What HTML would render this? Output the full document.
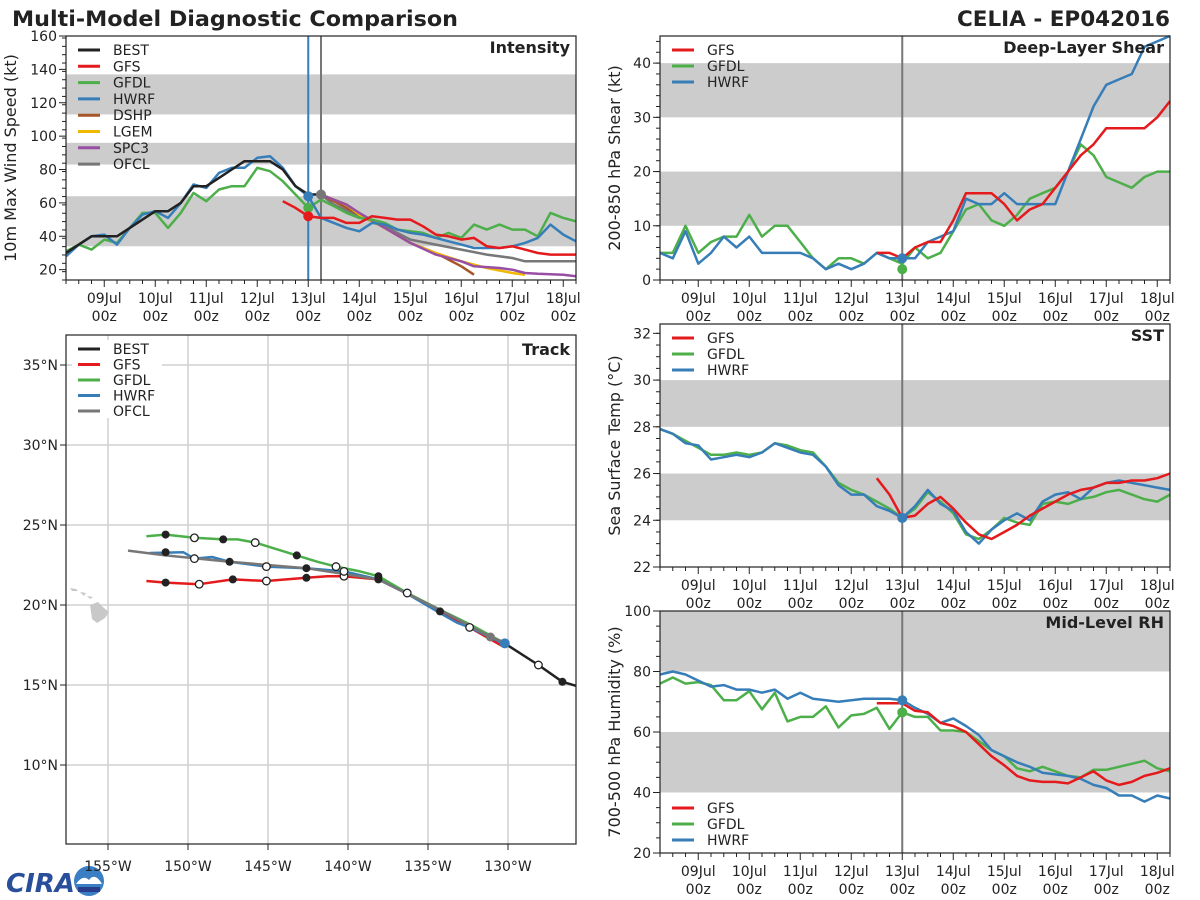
<!DOCTYPE html>
<html><head><meta charset="utf-8"><style>
body{margin:0;background:#fff;}
svg{display:block;font-family:"DejaVu Sans","Liberation Sans",sans-serif;}
</style></head><body>
<svg id="chart" width="1200" height="900" viewBox="0 0 1200 900">
<text x="12" y="26" font-size="21" font-weight="bold" fill="#222" textLength="446" lengthAdjust="spacingAndGlyphs">Multi-Model Diagnostic Comparison</text>
<text x="957" y="26" font-size="21" font-weight="bold" fill="#222" textLength="213" lengthAdjust="spacingAndGlyphs">CELIA - EP042016</text>
<g>
<text x="6" y="892" font-size="26" font-weight="bold" fill="#2a4f9a" font-style="italic">CIRA</text>
<circle cx="89" cy="881" r="15" fill="#3a7ec4"/>
<path d="M76 884 Q83 874 89 880 Q95 872 102 884 Z" fill="#fff"/>
<rect x="78" y="887" width="22" height="5" fill="#2a3d8a"/>
</g>
</svg>
<script>
const NS='http://www.w3.org/2000/svg';
const svg=document.getElementById('chart');
function el(tag,attrs,parent){const e=document.createElementNS(NS,tag);for(const k in attrs)e.setAttribute(k,attrs[k]);(parent||svg).appendChild(e);return e;}
const C={BEST:'#222222',GFS:'#e41a1c',GFDL:'#4daf4a',HWRF:'#377eb8',DSHP:'#a65628',LGEM:'#f0b800',SPC3:'#984ea3',OFCL:'#777777'};

const intBestDays=[8.25,8.5,8.75,9,9.25,9.5,9.75,10,10.25,10.5,10.75,11,11.25,11.5,11.75,12,12.25,12.5,12.75,13,13.25];
const intBest=[30,35,40,40,40,45,50,55,55,60,70,70,75,80,85,85,85,80,70,65,65];
const intFullDays=[8.25,8.5,8.75,9,9.25,9.5,9.75,10,10.25,10.5,10.75,11,11.25,11.5,11.75,12,12.25,12.5,12.75,13,13.25,13.5,13.75,14,14.25,14.5,14.75,15,15.25,15.5,15.75,16,16.25,16.5,16.75,17,17.25,17.5,17.75,18,18.25];
const intHwrf=[28,35,40,41,35,45,53,55,51,60,71,69,78,81,81,87,88,81,70,64,51,48,45,43,48,47,44,42,41,39,37,35,33,33,33,34,36,39,47,41,37];
const intGfdl=[31,35,32,38,36,45,54,54,45,54,66,61,68,70,70,81,79,73,65,57,62,58,54,51,50,48,44,43,42,39,42,39,47,44,47,44,44,40,54,51,49];
const intGfsDays=[12.5,12.75,13,13.25,13.5,13.75,14,14.25,14.5,14.75,15,15.25,15.5,15.75,16,16.25,16.5,16.75,17,17.25,17.5,17.75,18,18.25];
const intGfs=[61,57,52,51,51,48,48,52,51,50,50,46,41,40,38,39,34,33,34,32,30,29,29,29];
const intOfclDays=[13.25,13.5,14,14.5,15,15.5,16,16.5,17,17.25,17.5,18.25];
const intOfcl=[65,59,52,46,38,35,32,29,27,25,25,25];
const intDshpDays=[13.25,13.5,14,14.5,15,15.5,16,16.25];
const intDshp=[65,61,53,45,36,30,22,17];
const intLgemDays=[13.25,13.5,13.75,14,14.5,15,15.5,16,16.5,17,17.25];
const intLgem=[65,62,59,53,45,36,30,25,21,18,17];
const intSpcDays=[13.25,13.5,13.75,14,14.5,15,15.5,16,16.25,16.75,17,17.25,17.5,18,18.25];
const intSpc=[65,62,59,54,45,36,29,25,22,21,20,18,17.5,17,16];

const shFullDays=intFullDays;
const shHwrf=[5,4,9,3,5,8,6,8,5,5,5,5,4,2,3,2,3,5,4,4,4,7,8,9,15,14,14,16,14,14,14,14,20,26,32,36,37,38,43,44,45];
const shGfdl=[5,5,10,5,7,8,8,12,8,10,10,7,4,2,4,4,3,5,4,3,6,4,5,9,13,14,11,10,12,15,16,17,20,25,23,19,18,17,19,20,20];
const shGfsDays=intGfsDays;
const shGfs=[5,5,4,6,7,7,11,16,16,16,14,11,13,14,17,20,23,25,28,28,28,28,30,33];

const sstHwrf=[27.9,27.7,27.3,27.2,26.6,26.7,26.8,26.7,26.9,27.3,27.1,26.9,26.8,26.3,25.5,25.1,25.1,24.6,24.4,24.1,24.6,25.3,24.7,24.4,23.5,23.0,23.6,24.0,24.3,24.0,24.8,25.1,25.2,24.9,25.4,25.6,25.7,25.6,25.5,25.4,25.3];
const sstGfdl=[27.9,27.7,27.4,27.1,26.8,26.8,26.9,26.8,26.9,27.3,27.2,27.0,26.9,26.3,25.6,25.3,25.1,24.8,24.5,24.1,24.5,25.2,24.8,24.3,23.4,23.2,23.6,24.1,23.9,23.8,24.7,24.8,24.7,24.9,25.0,25.2,25.3,25.1,24.9,24.8,25.1];
const sstGfs=[25.8,25.1,24.1,24.2,24.7,25.0,24.5,23.9,23.4,23.2,23.5,23.8,24.2,24.5,24.8,25.1,25.3,25.4,25.6,25.6,25.7,25.7,25.8,26.0];

const rhHwrf=[79,80,79,77,75,75.5,74,74,73,74,71,73,71,70.5,70,70.5,71,71,71,70.5,68,66,63,64.5,62,59,54,52,50,48.5,46.5,46,45.5,44.5,42.5,41.5,39,39,37,39,38];
const rhGfdl=[76,78,76,76.5,75.5,70.5,70.5,73.5,67.5,73,63.5,65,65,68.5,61.5,65.5,66,68,61,66.5,65,65,60.5,60.5,60,57,54,52,48,47,48.5,47,45.5,45,47.5,47.5,48.5,49.5,50.5,48,47];
const rhGfs=[69.5,69.5,69.5,67,66.5,63,62,60,56,52,49,45.5,44,43.5,43.5,43,45,47,44,42.5,43.5,45.5,46.5,48];

const trGfsLon=[152.6,151.4,149.3,147.2,145.1,142.6,141.3,140.25,138.1,136.3,134.25,132.4,130.3];
const trGfsLat=[21.5,21.4,21.3,21.6,21.5,21.7,21.8,21.8,21.6,20.75,19.6,18.6,17.4];
const trGfdlLon=[152.6,151.4,149.6,147.8,146.9,145.8,143.2,141.9,140.75,139.25,138.1,136.3,134.25,132.2,130.2];
const trGfdlLat=[24.3,24.4,24.2,24.1,24.1,23.9,23.1,22.7,22.4,22.1,21.8,20.75,19.7,18.7,17.6];
const trHwrfLon=[152.4,150.3,149.6,148.5,147.4,145.1,142.6,140.25,138.1,136.3,134.25,133.2,132.4,130.3];
const trHwrfLat=[23.25,23.3,22.9,23.0,22.7,22.4,22.3,22.1,21.6,20.7,19.5,18.9,18.6,17.6];
const trOfclLon=[153.75,151.4,147.4,142.6,138.1,136.3,134.25,131.1,130.0];
const trOfclLat=[23.4,23.1,22.7,22.3,21.6,20.7,19.7,18.0,17.6];
const trBestLon=[130.2,128.1,126.6,125.75];
const trBestLat=[17.6,16.25,15.2,14.95];
const trFilledLon=[151.4,147.2,142.6,138.1,134.25,151.4,147.8,143.2,138.1,151.4,147.4,142.6,126.6];
const trFilledLat=[21.4,21.6,21.7,21.6,19.6,24.4,24.1,23.1,21.8,23.3,22.7,22.3,15.2];
const trOpenLon=[149.3,145.1,140.25,136.3,132.4,149.6,145.8,140.75,149.6,145.1,140.25,128.1];
const trOpenLat=[21.3,21.5,21.8,20.75,18.6,24.2,23.9,22.4,22.9,22.4,22.1,16.25];

const dayTicks=[9,10,11,12,13,14,15,16,17,18];
const dayLabels=['09Jul','10Jul','11Jul','12Jul','13Jul','14Jul','15Jul','16Jul','17Jul','18Jul'];

function timePanel(o){
  const g=el('g',{});
  const X=d=>o.x0+(d-8.25)/10*(o.x1-o.x0);
  const Y=v=>o.y1-(v-o.vmin)/(o.vmax-o.vmin)*(o.y1-o.y0);
  o.bands.forEach(b=>{const r=el('rect',{x:o.x0,y:Y(b[1]),width:o.x1-o.x0,height:Y(b[0])-Y(b[1]),fill:'#cccccc'},g);
    });
  for(let d=8.25;d<=18.26;d+=0.25){const major=Math.abs(d-Math.round(d))<0.01;
    el('line',{x1:X(d),x2:X(d),y1:o.y1,y2:o.y1+(major?7:4),stroke:'#222','stroke-width':1},g);}
  dayTicks.forEach((d,i)=>{
    const t=el('text',{x:X(d),y:o.y1+23,'font-size':14,'text-anchor':'middle',fill:'#222'},g);t.textContent=dayLabels[i];
    
    const t2=el('text',{x:X(d),y:o.y1+41,'font-size':14,'text-anchor':'middle',fill:'#222'},g);t2.textContent='00z';
    });
  for(let v=o.vmin;v<=o.vmax+1e-6;v+=o.minor){const y=Y(v);if(y<o.y0-0.5)continue;
    el('line',{x1:o.x0,x2:o.x0-4,y1:y,y2:y,stroke:'#222'},g);}
  o.yTicks.forEach(v=>{const y=Y(v);el('line',{x1:o.x0,x2:o.x0-7,y1:y,y2:y,stroke:'#222'},g);
    const t=el('text',{x:o.x0-9,y:y+5,'font-size':14,'text-anchor':'end',fill:'#222'},g);t.textContent=v;
    });
  const cy=(o.y0+o.y1)/2;
  const yt=el('text',{x:0,y:0,'font-size':16,'text-anchor':'middle',fill:'#222',transform:`translate(${o.x0-o.titleOff},${cy}) rotate(-90)`},g);
  yt.textContent=o.ytitle;
  o.vlines.forEach(v=>el('line',{x1:X(v[0]),x2:X(v[0]),y1:o.y0,y2:o.y1,stroke:v[1],'stroke-width':2},g));
  o.series.forEach(s=>{const p=s.d.map((d,i)=>X(d).toFixed(1)+','+Y(s.v[i]).toFixed(1)).join(' ');
    const l=el('polyline',{points:p,fill:'none',stroke:C[s.n],'stroke-width':2.5,'stroke-linejoin':'round'},g);
    });
  o.dots.forEach(s=>el('circle',{cx:X(s[0]),cy:Y(s[1]),r:5,fill:C[s[2]]},g));
  el('rect',{x:o.x0,y:o.y0,width:o.x1-o.x0,height:o.y1-o.y0,fill:'none',stroke:'#222','stroke-width':1.2},g);
  const pl=el('text',{x:o.x1-6,y:o.y0+17,'font-size':16,'font-weight':'bold','text-anchor':'end',fill:'#222'},g);
  pl.textContent=o.label;
  legend(g,o.x0+12,o.legY,o.legend,o.legSp);
}
function legend(g,x,y,names,sp){
  const lg=el('g',{},g);
  names.forEach((n,i)=>{const yy=y+i*sp;
    el('line',{x1:x,x2:x+22,y1:yy,y2:yy,stroke:C[n],'stroke-width':3},lg);
    const t=el('text',{x:x+35,y:yy+5,'font-size':14,fill:'#222'},lg);t.textContent=n;
    });
}

timePanel({name:'intensity-panel',x0:66,x1:576,y0:36,y1:280,vmin:13.8,vmax:160,minor:5,yTicks:[20,40,60,80,100,120,140,160],
  ytitle:'10m Max Wind Speed (kt)',titleOff:50,label:'Intensity',bands:[[34,64],[83,96],[113,137]],
  vlines:[[13,'#377eb8'],[13.25,'#777']],legY:50,legSp:16.3,legend:['BEST','GFS','GFDL','HWRF','DSHP','LGEM','SPC3','OFCL'],
  series:[{n:'OFCL',d:intOfclDays,v:intOfcl},{n:'DSHP',d:intDshpDays,v:intDshp},{n:'LGEM',d:intLgemDays,v:intLgem},{n:'SPC3',d:intSpcDays,v:intSpc},
    {n:'GFDL',d:intFullDays,v:intGfdl},{n:'HWRF',d:intFullDays,v:intHwrf},{n:'GFS',d:intGfsDays,v:intGfs},{n:'BEST',d:intBestDays,v:intBest}],
  dots:[[13,64,'HWRF'],[13,57,'GFDL'],[13,52,'GFS'],[13.25,65,'OFCL']]});
timePanel({name:'shear-panel',x0:660,x1:1170,y0:36,y1:280,vmin:0,vmax:45,minor:2,yTicks:[0,10,20,30,40],
  ytitle:'200-850 hPa Shear (kt)',titleOff:40,label:'Deep-Layer Shear',bands:[[10,20],[30,40]],
  vlines:[[13,'#777']],legY:50,legSp:16,legend:['GFS','GFDL','HWRF'],
  series:[{n:'GFDL',d:shFullDays,v:shGfdl},{n:'HWRF',d:shFullDays,v:shHwrf},{n:'GFS',d:shGfsDays,v:shGfs}],
  dots:[[13,2,'GFDL'],[13,4,'HWRF']]});
timePanel({name:'sst-panel',x0:660,x1:1170,y0:324,y1:567,vmin:22,vmax:32.4,minor:0.5,yTicks:[22,24,26,28,30,32],
  ytitle:'Sea Surface Temp (°C)',titleOff:40,label:'SST',bands:[[24,26],[28,30]],
  vlines:[[13,'#777']],legY:338,legSp:16,legend:['GFS','GFDL','HWRF'],
  series:[{n:'GFDL',d:intFullDays,v:sstGfdl},{n:'HWRF',d:intFullDays,v:sstHwrf},{n:'GFS',d:intGfsDays,v:sstGfs}],
  dots:[[13,24.1,'HWRF']]});
timePanel({name:'rh-panel',x0:660,x1:1170,y0:611,y1:853,vmin:20,vmax:100,minor:5,yTicks:[20,40,60,80,100],
  ytitle:'700-500 hPa Humidity (%)',titleOff:40,label:'Mid-Level RH',bands:[[40,60],[80,100]],
  vlines:[[13,'#777']],legY:808,legSp:16,legend:['GFS','GFDL','HWRF'],
  series:[{n:'GFDL',d:intFullDays,v:rhGfdl},{n:'HWRF',d:intFullDays,v:rhHwrf},{n:'GFS',d:intGfsDays,v:rhGfs}],
  dots:[[13,70.5,'HWRF'],[13,66.5,'GFDL']]});

(function(){
  const g=el('g',{});
  const x0=66,x1=576,y0=335,y1=844;
  const LX=w=>108+(155-w)*16, LY=l=>365+(35-l)*16;
  const lonT=[155,150,145,140,135,130], latT=[35,30,25,20,15,10];
  lonT.forEach(w=>{el('line',{x1:LX(w),x2:LX(w),y1:y0,y2:y1,stroke:'#d0d0d0','stroke-width':1.5},g);
    el('line',{x1:LX(w),x2:LX(w),y1:y1,y2:y1+6,stroke:'#222'},g);
    const t=el('text',{x:LX(w),y:y1+27,'font-size':14,'text-anchor':'middle',fill:'#222'},g);t.textContent=w+'°W';
    });
  latT.forEach(l=>{el('line',{x1:x0,x2:x1,y1:LY(l),y2:LY(l),stroke:'#d0d0d0','stroke-width':1.5},g);
    el('line',{x1:x0,x2:x0-6,y1:LY(l),y2:LY(l),stroke:'#222'},g);
    const t=el('text',{x:x0-8,y:LY(l)+5,'font-size':14,'text-anchor':'end',fill:'#222'},g);t.textContent=l+'°N';
    });
  const hi=el('g',{fill:'#c8c8c8'},g);
  el('path',{d:'M90 605 L98 602 L104 608 L109 612 L105 618 L97 623 L92 619 Z'},hi);
  el('path',{d:'M70 588 L76 589 L78 591 L72 591 Z M80 592 L86 593 L84 596 Z M87 596 L93 597 L90 599 Z'},hi);
  const series=[['GFS',trGfsLon,trGfsLat],['GFDL',trGfdlLon,trGfdlLat],['HWRF',trHwrfLon,trHwrfLat],['OFCL',trOfclLon,trOfclLat],['BEST',trBestLon,trBestLat]];
  series.forEach(s=>{const p=s[1].map((w,i)=>LX(w).toFixed(1)+','+LY(s[2][i]).toFixed(1)).join(' ');
    const l=el('polyline',{points:p,fill:'none',stroke:C[s[0]],'stroke-width':2.5,'stroke-linejoin':'round'},g);
    });
  el('circle',{cx:LX(130.2),cy:LY(17.6),r:5,fill:C.HWRF},g);
  el('circle',{cx:LX(131.1),cy:LY(18.0),r:4.5,fill:C.OFCL},g);
  trFilledLon.forEach((w,i)=>el('circle',{cx:LX(w),cy:LY(trFilledLat[i]),r:4,fill:'#222'},g));
  trOpenLon.forEach((w,i)=>el('circle',{cx:LX(w),cy:LY(trOpenLat[i]),r:3.8,fill:'#fff',stroke:'#222','stroke-width':1.3},g));
  el('rect',{x:x0,y:y0,width:x1-x0,height:y1-y0,fill:'none',stroke:'#222','stroke-width':1.2},g);
  const pl=el('text',{x:x1-6,y:y0+20,'font-size':16,'font-weight':'bold','text-anchor':'end',fill:'#222'},g);
  pl.textContent='Track';
  el('rect',{x:72,y:340,width:90,height:78,fill:'#fff'},g);
  legend(g,78,349,['BEST','GFS','GFDL','HWRF','OFCL'],15.5);
})();
</script>
</body></html>
